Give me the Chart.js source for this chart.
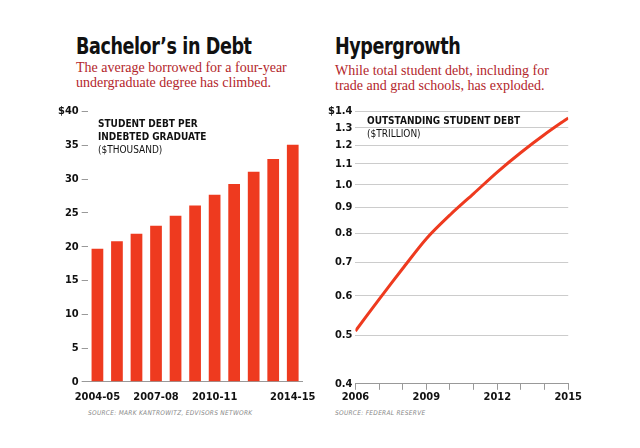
<!DOCTYPE html>
<html>
<head>
<meta charset="utf-8">
<script src="https://cdn.jsdelivr.net/npm/chart.js@4"></script>
<style>
  body { margin: 0; background: #fff; width: 640px; height: 448px; position: relative; overflow: hidden; }
  .title { position: absolute; font-family: "DejaVu Sans Condensed", "DejaVu Sans"; font-stretch: condensed; font-weight: bold; font-size: 23px; color: #111; transform: scaleX(0.85); transform-origin: left; letter-spacing: -0.5px; }
  .sub { position: absolute; font-family: "Liberation Serif"; font-size: 14px; line-height: 15px; color: #b3262b; }
  .lbl { position: absolute; font-family: "DejaVu Sans Condensed", "DejaVu Sans"; font-stretch: condensed; font-size: 10px; line-height: 13px; color: #111; }
  .src { position: absolute; font-family: "DejaVu Sans Condensed", "DejaVu Sans"; font-stretch: condensed; font-style: italic; font-size: 6.5px; color: #888; letter-spacing: 0.3px; }
  canvas { position: absolute; }
</style>
</head>
<body>
<div class="title" style="left:76px; top:33px;">Bachelor’s in Debt</div>
<div class="sub" style="left:76px; top:60px;">The average borrowed for a four-year<br>undergraduate degree has climbed.</div>
<div class="title" style="left:335px; top:33px;">Hypergrowth</div>
<div class="sub" style="left:335px; top:63px;">While total student debt, including for<br>trade and grad schools, has exploded.</div>

<div style="position:absolute;left:55px;top:102px;width:262px;height:303px"><canvas id="bachelorChart"></canvas></div>
<div style="position:absolute;left:325px;top:102px;width:258px;height:303px"><canvas id="growthChart"></canvas></div>

<div class="lbl" style="left:98px; top:117px;"><b>STUDENT DEBT PER<br>INDEBTED GRADUATE</b><br>($THOUSAND)</div>
<div class="lbl" style="left:367px; top:114px;"><b>OUTSTANDING STUDENT DEBT</b><br>($TRILLION)</div>
<div class="src" style="left:88px; top:409px;">SOURCE: MARK KANTROWITZ, EDVISORS NETWORK</div>
<div class="src" style="left:335px; top:409px;">SOURCE: FEDERAL RESERVE</div>

<script>
const years = ['2004-05','2005-06','2006-07','2007-08','2008-09','2009-10','2010-11','2011-12','2012-13','2013-14','2014-15'];
const debtPerGrad = [19.7, 20.8, 21.9, 23.1, 24.6, 26.1, 27.7, 29.3, 31.1, 33.0, 35.1];

const totalDebt = [
    { x: 2006, y: 0.51 }, { x: 2007, y: 0.59 }, { x: 2008, y: 0.68 }, { x: 2009, y: 0.78 },
    { x: 2010, y: 0.87 }, { x: 2011, y: 0.96 }, { x: 2012, y: 1.06 }, { x: 2013, y: 1.16 },
    { x: 2014, y: 1.26 }, { x: 2015, y: 1.36 }
];

const tickFont = { family: 'DejaVu Sans Condensed', size: 11, weight: 'bold' };
const red = '#ee3a1f';

new Chart(document.getElementById('bachelorChart'), {
    type: 'bar',
    data: {
        labels: years,
        datasets: [{ data: debtPerGrad, backgroundColor: red, barPercentage: 0.6, categoryPercentage: 1 }]
    },
    options: {
        responsive: true,
        maintainAspectRatio: false,
        animation: false,
        layout: { padding: { top: 4, right: 12 } },
        plugins: { legend: { display: false }, tooltip: { enabled: false } },
        scales: {
            x: {
                grid: { display: false },
                border: { color: '#999' },
                ticks: {
                    color: '#111', font: tickFont, autoSkip: false, maxRotation: 0, padding: 1,
                    callback: (v, i) => [0, 3, 6, 10].includes(i) ? years[i] : ''
                }
            },
            y: {
                min: 0, max: 40,
                grid: { drawOnChartArea: false, tickLength: 6, color: '#999' },
                border: { display: false },
                ticks: { stepSize: 5, color: '#111', font: tickFont, callback: v => v === 40 ? '$40' : v }
            }
        }
    }
});

new Chart(document.getElementById('growthChart'), {
    type: 'line',
    data: {
        datasets: [{ data: totalDebt, borderColor: red, borderWidth: 3, pointRadius: 0, tension: 0.3 }]
    },
    options: {
        responsive: true,
        maintainAspectRatio: false,
        animation: false,
        layout: { padding: { top: 4, right: 14 } },
        plugins: { legend: { display: false }, tooltip: { enabled: false } },
        scales: {
            x: {
                type: 'linear', min: 2006, max: 2015,
                grid: { drawOnChartArea: false, tickLength: 6, color: '#999' },
                border: { color: '#999' },
                ticks: {
                    stepSize: 1, color: '#111', font: tickFont, maxRotation: 0, autoSkip: false, padding: 1,
                    callback: v => [2006, 2009, 2012, 2015].includes(v) ? String(v) : ''
                }
            },
            y: {
                type: 'logarithmic', min: 0.4, max: 1.4,
                afterBuildTicks: axis => {
                    axis.ticks = [0.4,0.5,0.6,0.7,0.8,0.9,1.0,1.1,1.2,1.3,1.4].map(v => ({ value: v }));
                },
                grid: { color: ctx => ctx.tick && ctx.tick.value === 0.4 ? 'rgba(0,0,0,0)' : '#ccc', tickLength: 0 },
                border: { display: false },
                ticks: { color: '#111', font: tickFont, callback: v => v === 1.4 ? '$1.4' : v.toFixed(1) }
            }
        }
    }
});
</script>
</body>
</html>
